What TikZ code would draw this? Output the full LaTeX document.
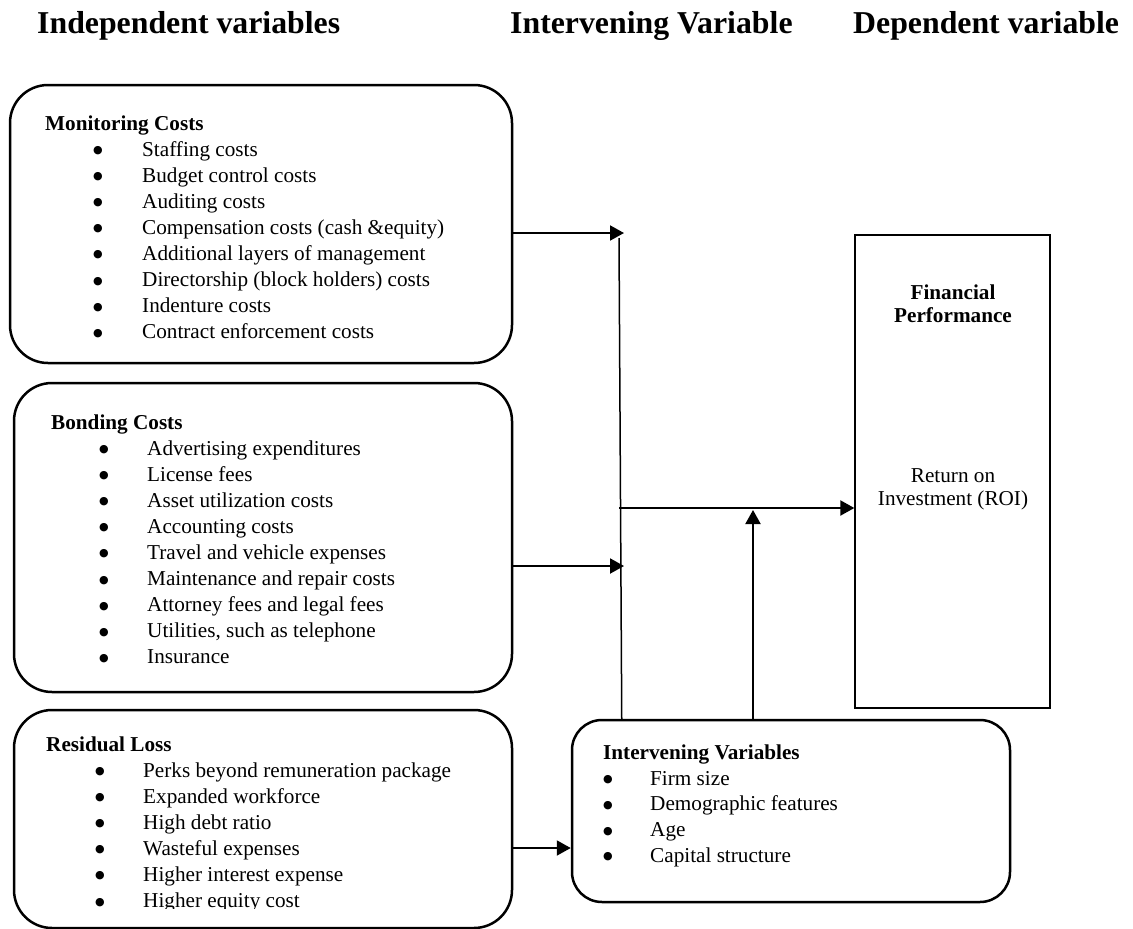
\documentclass[tikz,border=0pt]{standalone}
\usepackage{fontspec}
\setmainfont{Liberation Serif}
\newfontfamily\symfont{DejaVu Sans}
\usetikzlibrary{arrows.meta}
\tikzset{
  box/.style={draw, line width=2.5pt, rounded corners=38pt, inner sep=0pt},
  ibox/.style={draw, line width=2.5pt, rounded corners=30pt, inner sep=0pt},
  fbox/.style={draw, line width=1.3pt, inner sep=0pt},
  head/.style={anchor=base west, inner sep=0pt, font=\fontsize{31.8}{38}\selectfont\bfseries},
  ttl/.style={anchor=base west, inner sep=0pt, font=\fontsize{21.2}{26}\selectfont\bfseries},
  itm/.style={anchor=base west, inner sep=0pt, font=\fontsize{21.2}{26}\selectfont},
  bul/.style={anchor=base, inner sep=0pt, yshift=2.5pt, font=\symfont\fontsize{11}{11}\selectfont},
  ctr/.style={anchor=base, inner sep=0pt, font=\fontsize{21.2}{26}\selectfont},
  arr/.style={line width=2pt, -{Triangle[length=14pt,width=15pt]}},
  ln/.style={line width=1.5pt}
}
\newcommand\bulchar{●}
\begin{document}
\begin{tikzpicture}[x=1pt,y=-1pt]
\useasboundingbox (0,0) rectangle (1133,929);

% headings
\node[head] (h1) at (37,33) {Independent variables};
\node[head] (h2) at (510,33) {Intervening Variable};
\node[head] (h3) at (853,33) {Dependent variable};

% boxes
\node[box, minimum width=502pt, minimum height=278pt] (mon) at (261,224) {};
\node[box, minimum width=498pt, minimum height=309pt] (bon) at (263,537.5) {};
\node[box, minimum width=498pt, minimum height=218pt] (res) at (263,819) {};
\node[ibox, minimum width=438pt, minimum height=182pt] (int) at (791,811) {};
\node[fbox, minimum width=195pt, minimum height=473pt] (fin) at (952.5,471.5) {};

% monitoring costs
\node[ttl] (mt) at (45,130) {Monitoring Costs};
\foreach \t [count=\i from 0] in {Staffing costs, Budget control costs, Auditing costs,
  Compensation costs (cash \&equity), Additional layers of management,
  Directorship (block holders) costs, Indenture costs, Contract enforcement costs}
{
  \node[bul] (mb\i) at (98,156+26.1*\i) {\bulchar};
  \node[itm] (mi\i) at (142,156+26.1*\i) {\t};
}

% bonding costs
\node[ttl] (bt) at (51,429) {Bonding Costs};
\foreach \t [count=\i from 0] in {Advertising expenditures, License fees, Asset utilization costs,
  Accounting costs, Travel and vehicle expenses, Maintenance and repair costs,
  Attorney fees and legal fees, {Utilities, such as telephone}, Insurance}
{
  \node[bul] (bb\i) at (104,455+26.1*\i) {\bulchar};
  \node[itm] (bi\i) at (147,455+26.1*\i) {\t};
}

% residual loss
\node[ttl] (rt) at (46,751) {Residual Loss};
\foreach \t [count=\i from 0] in {Perks beyond remuneration package, Expanded workforce,
  High debt ratio, Wasteful expenses, Higher interest expense}
{
  \node[bul] (rb\i) at (100,777+26.1*\i) {\bulchar};
  \node[itm] (ri\i) at (143,777+26.1*\i) {\t};
}
\begin{scope}
  \clip (0,0) rectangle (1133,908);
  \node[bul] (rb5) at (100,907.5) {\bulchar};
  \node[itm] (ri5) at (143,907.5) {Higher equity cost};
\end{scope}

% intervening variables
\node[ttl] (it) at (603,759) {Intervening Variables};
\foreach \t [count=\i from 0] in {Firm size, Demographic features, Age, Capital structure}
{
  \node[bul] (ib\i) at (608,785+25.8*\i) {\bulchar};
  \node[itm] (ii\i) at (650,785+25.8*\i) {\t};
}

% financial performance
\node[ctr, font=\fontsize{21.2}{26}\selectfont\bfseries] (f1) at (953,299) {Financial};
\node[ctr, font=\fontsize{21.2}{26}\selectfont\bfseries] (f2) at (953,322.5) {Performance};
\node[ctr] (f3) at (953,482) {Return on};
\node[ctr] (f4) at (953,505.5) {Investment (ROI)};

% connectors
\coordinate (j1) at (624,233);
\coordinate (j2) at (624,566);
\coordinate (vtop) at (619,238);
\coordinate (vbot) at ([xshift=51pt]int.north west);
\coordinate (j3) at (619,508);
\coordinate (j4) at (753,510);

\draw[arr] ([yshift=-9pt]mon.east) -- (j1);
\draw[arr] ([yshift=-28.5pt]bon.east) -- (j2);
\draw[ln] (vtop) -- (vbot);
\draw[arr] (j3) -- ([yshift=-36.5pt]fin.west);
\draw[arr] ([xshift=-38pt]int.north) -- (j4);
\draw[arr] ([yshift=-29pt]res.east) -- ([yshift=-37pt]int.west);
\end{tikzpicture}
\end{document}
